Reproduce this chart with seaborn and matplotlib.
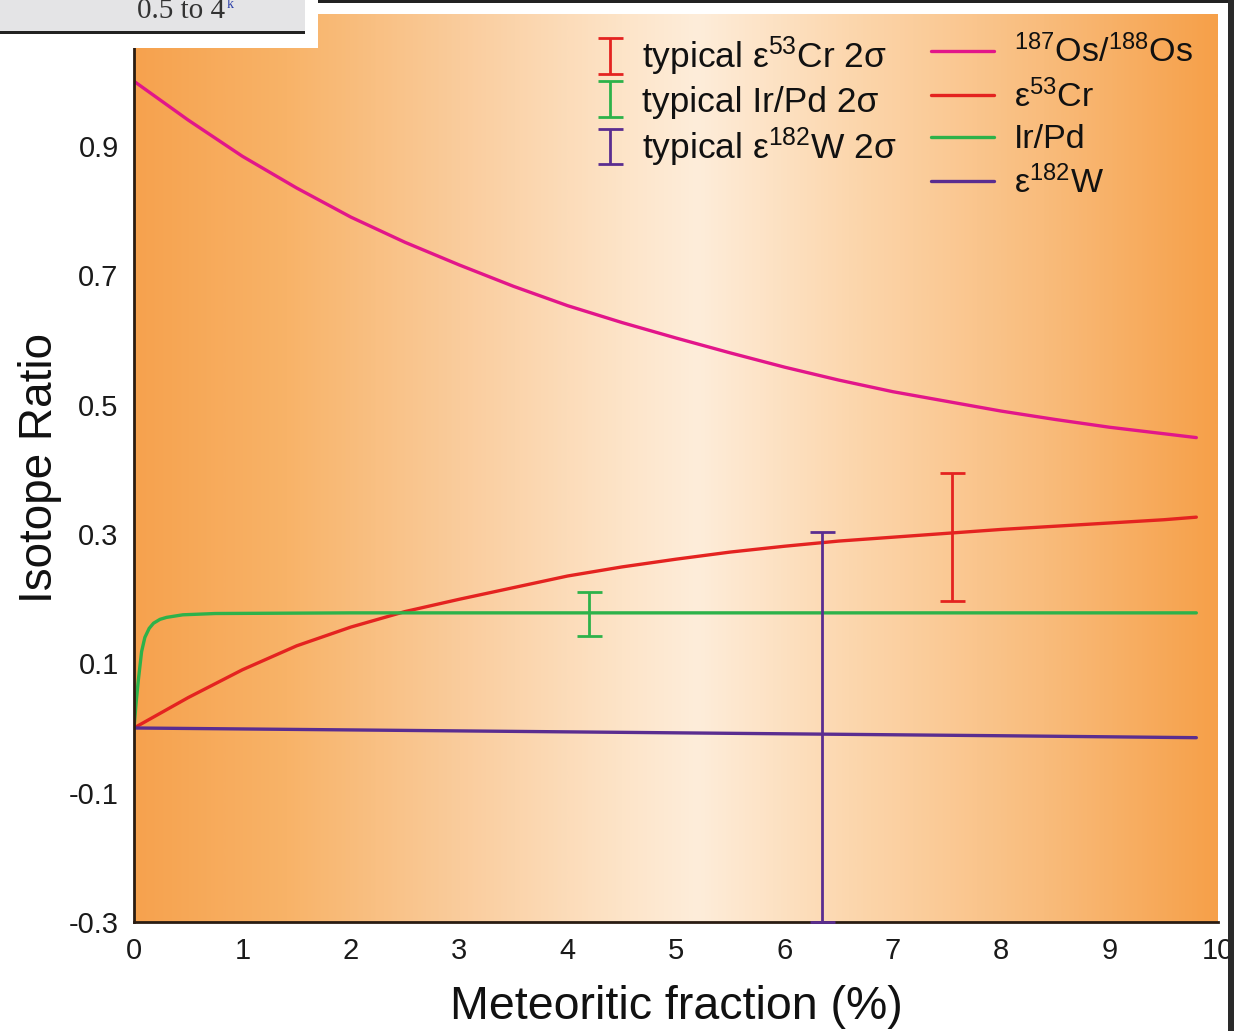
import numpy as np
import pandas as pd
import matplotlib
matplotlib.use("Agg")
import matplotlib.pyplot as plt
import seaborn as sns
from matplotlib.colors import LinearSegmentedColormap
from matplotlib.patches import Rectangle

# ---------------- data ----------------
os_x = [0, 0.5, 1, 1.5, 2, 2.5, 3, 3.5, 4, 4.5, 5, 5.5, 6, 6.5, 7, 7.5, 8, 8.5, 9, 9.5, 9.8]
os_y = [1.0, 0.94, 0.884, 0.835, 0.79, 0.751, 0.716, 0.683, 0.653, 0.627, 0.603, 0.58,
        0.558, 0.538, 0.52, 0.505, 0.49, 0.477, 0.465, 0.455, 0.449]

cr_x = [0, 0.5, 1, 1.5, 2, 2.5, 3, 3.5, 4, 4.5, 5, 5.5, 6, 6.5, 7, 7.5, 8, 8.5, 9, 9.5, 9.8]
cr_y = [0.0, 0.047, 0.09, 0.127, 0.156, 0.18, 0.199, 0.217, 0.235, 0.249, 0.261, 0.272,
        0.281, 0.289, 0.295, 0.301, 0.307, 0.312, 0.317, 0.322, 0.326]

irpd_x = [0, 0.02, 0.04, 0.07, 0.1, 0.14, 0.18, 0.24, 0.3, 0.45, 0.75, 2, 4, 6, 8, 9.8]
irpd_y = [0.0, 0.04, 0.074, 0.118, 0.14, 0.154, 0.162, 0.168, 0.171, 0.175, 0.177, 0.178,
          0.178, 0.178, 0.178, 0.178]

w_x = [0, 2, 4, 6, 8, 9.8]
w_y = [0.0, -0.003, -0.006, -0.009, -0.012, -0.015]

series_names = ["Os", "Cr", "IrPd", "W"]
series_labels = [r"$\mathregular{^{187}}$Os/$\mathregular{^{188}}$Os",
                 r"ε$\mathregular{^{53}}$Cr", "Ir/Pd", r"ε$\mathregular{^{182}}$W"]
series_colors = ["#E2168A", "#E42320", "#2DB24A", "#5A2D90"]

err_names = [r"typical ε$\mathregular{^{53}}$Cr 2σ", "typical Ir/Pd 2σ",
             r"typical ε$\mathregular{^{182}}$W 2σ"]
err_x = [7.55, 4.2, 6.35]
err_lo = [0.196, 0.142, -0.300]
err_hi = [0.394, 0.210, 0.303]
err_colors = ["#E42320", "#2DB24A", "#5A2D90"]

x_ticks = [0, 1, 2, 3, 4, 5, 6, 7, 8, 9, 10]
y_ticks = [-0.3, -0.1, 0.1, 0.3, 0.5, 0.7, 0.9]
y_tick_labels = ["-0.3", "-0.1", "0.1", "0.3", "0.5", "0.7", "0.9"]

# ---------------- style ----------------
sns.set_style("white")
plt.rcParams["font.family"] = ["Liberation Sans", "DejaVu Sans"]
plt.rcParams["mathtext.fontset"] = "custom"
plt.rcParams["mathtext.rm"] = "Liberation Sans"
plt.rcParams["axes.unicode_minus"] = False

W, H = 1234, 1031
fig = plt.figure(figsize=(W / 100, H / 100), dpi=100)
fig.patch.set_facecolor("white")

ax_l, ax_r, ax_t, ax_b = 134, 1218, 14, 922
ax = fig.add_axes([ax_l / W, 1 - ax_b / H, (ax_r - ax_l) / W, (ax_b - ax_t) / H])

YMIN, YMAX = -0.3, 1.104
ax.set_xlim(0, 10)
ax.set_ylim(YMIN, YMAX)

# gradient background
cmap = LinearSegmentedColormap.from_list(
    "bg",
    [(0.0, "#F6A24E"), (0.14, "#F8B368"), (0.30, "#FACC9C"), (0.45, "#FDE4C8"),
     (0.52, "#FEEDDA"), (0.66, "#FCD7AE"), (0.84, "#F9BC7C"), (1.0, "#F6A049")])
grad = np.linspace(0, 1, 512).reshape(1, -1)
ax.imshow(grad, extent=[0, 10, YMIN, YMAX], aspect="auto", cmap=cmap,
          origin="lower", zorder=0, interpolation="bilinear")

# curves
frames = []
for name, xs, ys in zip(series_names, [os_x, cr_x, irpd_x, w_x], [os_y, cr_y, irpd_y, w_y]):
    frames.append(pd.DataFrame({"x": xs, "y": ys, "series": name}))
df = pd.concat(frames, ignore_index=True)
sns.lineplot(data=df, x="x", y="y", hue="series", hue_order=series_names,
             palette=dict(zip(series_names, series_colors)), estimator=None,
             sort=False, linewidth=2.4, legend=False, ax=ax, zorder=3)
line_handles = list(ax.get_lines()[:4])

# error bars
err_handles = []
for xv, lo, hi, c in zip(err_x, err_lo, err_hi, err_colors):
    mid = (lo + hi) / 2
    h = ax.errorbar([xv], [mid], yerr=[[mid - lo], [hi - mid]], fmt="none",
                    ecolor=c, elinewidth=2.0, capsize=9, capthick=2.0, zorder=6,
                    clip_on=False)
    err_handles.append(h)

ax.set_xlim(0, 10)
ax.set_ylim(YMIN, YMAX)

# axes styling
for s in ["top", "right"]:
    ax.spines[s].set_visible(False)
for s in ["left", "bottom"]:
    ax.spines[s].set_color("#2A1C12")
    ax.spines[s].set_linewidth(2.0)
    ax.spines[s].set_zorder(5)

ax.set_xticks(x_ticks)
ax.set_xticklabels([str(t) for t in x_ticks])
ax.set_yticks(y_ticks)
ax.set_yticklabels(y_tick_labels)
ax.tick_params(axis="both", direction="in", length=6, width=1.6, color="#2A1C12",
               labelsize=21, labelcolor="#1A1A1A")
ax.tick_params(axis="x", pad=11)
ax.tick_params(axis="y", pad=11)

ax.set_xlabel("Meteoritic fraction (%)", fontsize=33.5, color="#111111", labelpad=14)
ax.set_ylabel("Isotope Ratio", fontsize=33, color="#111111", labelpad=5)

# legends
leg1 = fig.legend(err_handles, err_names, loc="upper left",
                  bbox_to_anchor=(597 / W, 1 - 35 / H), bbox_transform=fig.transFigure,
                  frameon=False, fontsize=25.5, handlelength=0.72, handletextpad=0.55,
                  labelspacing=0.2, borderpad=0, borderaxespad=0)
leg2 = fig.legend(line_handles, series_labels, loc="upper left",
                  bbox_to_anchor=(931 / W, 1 - 35 / H), bbox_transform=fig.transFigure,
                  frameon=False, fontsize=24.5, handlelength=1.85, handletextpad=0.58,
                  labelspacing=0.3, borderpad=0, borderaxespad=0)
for t in leg1.get_texts() + leg2.get_texts():
    t.set_color("#111111")

# screenshot surroundings
def prect(x, y, w, h, color, z=10):
    fig.patches.append(Rectangle((x / W, 1 - (y + h) / H), w / W, h / H,
                                 transform=fig.transFigure, facecolor=color,
                                 edgecolor="none", zorder=z))

prect(0, 0, 318, 48, "white", z=10)
prect(0, 0, 305, 32, "#E4E4E6", z=11)
prect(0, 31, 305, 3, "#222222", z=12)
prect(318, 0, W - 318, 2.5, "#222222", z=12)
prect(1228, 0, 6, H, "#2A2A2A", z=12)
fig.text(137 / W, 1 - 18 / H, "0.5 to 4", fontsize=21, family="Liberation Serif",
         color="#333333", va="baseline", ha="left", zorder=13)
fig.text(227 / W, 1 - 8 / H, "k", fontsize=10, family="Liberation Serif",
         color="#2B3FA8", va="baseline", ha="left", zorder=13)

fig.savefig("out.png", dpi=100)
